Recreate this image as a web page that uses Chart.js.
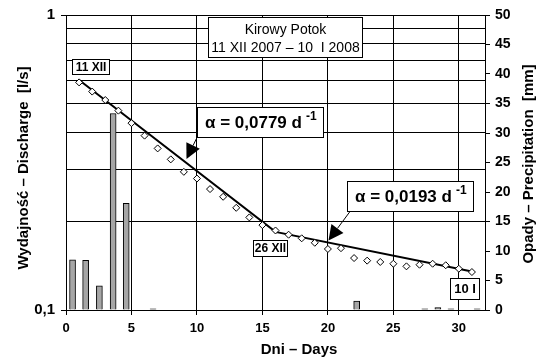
<!DOCTYPE html>
<html>
<head>
<meta charset="utf-8">
<script src="https://cdn.jsdelivr.net/npm/chart.js@4"></script>
<style>
  html, body { margin: 0; padding: 0; background: #fff; }
  #wrap { width: 543px; height: 362px; }
</style>
</head>
<body>
<div id="wrap"><canvas id="chart" width="543" height="362"></canvas></div>
<script>
  // discharge measurements, one per day (day 1 = 11 XII 2007)
  const days = [1, 2, 3, 4, 5, 6, 7, 8, 9, 10, 11, 12, 13, 14, 15, 16,
    17, 18, 19, 20, 21, 22, 23, 24, 25, 26, 27, 28, 29, 30, 31];
  const discharge = [0.591, 0.55, 0.515, 0.474, 0.43, 0.39, 0.353, 0.324, 0.294, 0.279,
    0.257, 0.242, 0.222, 0.206, 0.194, 0.186, 0.180, 0.175, 0.169, 0.161,
    0.162, 0.150, 0.147, 0.1455, 0.1435, 0.1406, 0.1424, 0.1435, 0.1418, 0.138, 0.1345];

  // recession lines (break on 26 XII)
  const fitDays = [1, 16, 31];
  const fitDischarge = [0.602, 0.184, 0.135];

  // daily precipitation bars
  const rainDays = [0.5, 1.5, 2.55, 3.6, 4.6, 6.65, 22.2, 27.4, 28.4, 29.4, 31.4];
  const rain = [8.5, 8.4, 4.1, 33.3, 18.1, 0.2, 1.5, 0.2, 0.4, 0.2, 0.2];

  const dayTicks = [0, 5, 10, 15, 20, 25, 30];
  const qGrid = [0.1, 0.2, 0.3, 0.4, 0.5, 0.6, 0.7, 0.8, 0.9, 1];
  const qLabels = { "0.1": "0,1", "1": "1" };

  const NARROW = "'Liberation Sans Narrow', 'Liberation Sans', Arial, sans-serif";
  const SANS = "'Liberation Sans', Arial, sans-serif";

  function qLabel(v) {
    const key = String(Math.round(v * 10) / 10);
    return qLabels[key] || "";
  }

  function drawBox(ctx, x, y, w, h) {
    ctx.fillStyle = "#fff";
    ctx.fillRect(x, y, w, h);
    ctx.strokeStyle = "#000";
    ctx.lineWidth = 1;
    ctx.strokeRect(x + 0.5, y + 0.5, w, h);
  }

  function boxLabel(ctx, text, x, y, w, h, font) {
    drawBox(ctx, x, y, w, h);
    ctx.fillStyle = "#000";
    ctx.font = font;
    ctx.textAlign = "center";
    ctx.textBaseline = "middle";
    ctx.fillText(text, x + w / 2 + 0.5, y + h / 2 + 1);
  }

  function alphaLabel(ctx, text, x, y, w, h) {
    drawBox(ctx, x, y, w, h);
    ctx.fillStyle = "#000";
    ctx.textBaseline = "alphabetic";
    ctx.textAlign = "left";
    ctx.font = "bold 17px " + SANS;
    ctx.fillText(text, x + 8, y + h / 2 + 6);
    const tw = ctx.measureText(text).width;
    ctx.font = "bold 12px " + SANS;
    ctx.fillText("-1", x + 8 + tw + 4, y + h / 2 - 2);
  }

  function arrow(ctx, fx, fy, tx, ty, len, half) {
    const dx = tx - fx, dy = ty - fy;
    const d = Math.hypot(dx, dy);
    const ux = dx / d, uy = dy / d;
    const bx = tx - ux * len, by = ty - uy * len;
    ctx.strokeStyle = "#000";
    ctx.lineWidth = 1;
    ctx.beginPath();
    ctx.moveTo(fx, fy);
    ctx.lineTo(bx, by);
    ctx.stroke();
    ctx.fillStyle = "#000";
    ctx.beginPath();
    ctx.moveTo(tx, ty);
    ctx.lineTo(bx + uy * half, by - ux * half);
    ctx.lineTo(bx - uy * half, by + ux * half);
    ctx.closePath();
    ctx.fill();
  }

  const notes = {
    id: "notes",
    afterDraw(chart) {
      const ctx = chart.ctx;
      ctx.save();

      // axis titles
      ctx.fillStyle = "#000";
      ctx.font = "bold 15px " + SANS;
      ctx.textAlign = "center";
      ctx.textBaseline = "middle";
      ctx.save();
      ctx.translate(24, 168);
      ctx.rotate(-Math.PI / 2);
      ctx.fillText("Wydajność – Discharge  [l/s]", 0, 0);
      ctx.restore();
      ctx.save();
      ctx.translate(529, 164);
      ctx.rotate(-Math.PI / 2);
      ctx.fillText("Opady – Precipitation  [mm]", 0, 0);
      ctx.restore();
      ctx.fillText("Dni – Days", 299, 350);

      // station box
      drawBox(ctx, 208, 17, 154, 40);
      ctx.fillStyle = "#000";
      ctx.font = "14px " + SANS;
      ctx.fillText("Kirowy Potok", 285.5, 30);
      ctx.fillText("11 XII 2007 – 10  I 2008", 285.5, 48);

      // date tags
      const tagFont = "bold 12px " + NARROW;
      boxLabel(ctx, "11 XII", 72, 59, 37, 15, tagFont);
      boxLabel(ctx, "26 XII", 253, 240, 34, 16, tagFont);
      boxLabel(ctx, "10 I", 450, 278, 29, 21, "bold 13px " + NARROW);

      // recession coefficients
      arrow(ctx, 197, 137.5, 186.5, 159, 15, 7.5);
      alphaLabel(ctx, "α = 0,0779 d", 197, 107, 126, 30);
      arrow(ctx, 350, 211.5, 328.5, 240.5, 15, 7.5);
      alphaLabel(ctx, "α = 0,0193 d", 347, 181, 126, 30);

      ctx.restore();
    }
  };

  new Chart(document.getElementById("chart"), {
    type: "line",
    data: {
      datasets: [
        {
          type: "line",
          label: "Discharge",
          data: days.map((d, i) => ({ x: d, y: discharge[i] })),
          showLine: false,
          pointStyle: "rectRot",
          pointRadius: 3.5,
          pointBackgroundColor: "#fff",
          pointBorderColor: "#000",
          pointBorderWidth: 1,
          xAxisID: "x",
          yAxisID: "y",
          order: 0
        },
        {
          type: "line",
          label: "Recession",
          data: fitDays.map((d, i) => ({ x: d, y: fitDischarge[i] })),
          borderColor: "#000",
          borderWidth: 2,
          pointRadius: 0,
          tension: 0,
          xAxisID: "x",
          yAxisID: "y",
          order: 1
        },
        {
          type: "bar",
          label: "Precipitation",
          data: rainDays.map((d, i) => ({ x: d, y: rain[i] })),
          backgroundColor: "#a6a6a6",
          borderColor: "#000",
          borderWidth: 1,
          barThickness: 6,
          xAxisID: "x",
          yAxisID: "y2",
          order: 2
        }
      ]
    },
    options: {
      responsive: false,
      devicePixelRatio: 1,
      animation: false,
      layout: { padding: { top: 15, left: 0, right: 0, bottom: 0 } },
      plugins: {
        legend: { display: false },
        title: { display: false },
        tooltip: { enabled: false }
      },
      scales: {
        x: {
          type: "linear",
          min: 0,
          max: 32,
          offset: false,
          afterFit: s => { s.height = 52; },
          afterBuildTicks: s => { s.ticks = dayTicks.concat([32]).map(v => ({ value: v })); },
          grid: {
            offset: false,
            color: "#000",
            lineWidth: 1,
            tickLength: 5,
            tickColor: c => (c.tick && c.tick.value === 32 ? "rgba(0,0,0,0)" : "#000")
          },
          border: { color: "#000", width: 1 },
          ticks: {
            autoSkip: false,
            maxRotation: 0,
            padding: 6,
            color: "#000",
            font: { family: NARROW, size: 13, weight: "bold" },
            callback: v => (dayTicks.includes(v) ? String(v) : "")
          }
        },
        y: {
          type: "logarithmic",
          position: "left",
          min: 0.1,
          max: 1,
          afterFit: s => { s.width = 66; },
          afterBuildTicks: s => { s.ticks = qGrid.map(v => ({ value: v })); },
          grid: {
            color: "#000",
            lineWidth: 1,
            tickLength: 5,
            tickColor: c => (c.tick && qLabel(c.tick.value) ? "#000" : "rgba(0,0,0,0)")
          },
          border: { color: "#000", width: 1 },
          ticks: {
            autoSkip: false,
            padding: 6,
            color: "#000",
            font: { family: NARROW, size: 15, weight: "bold" },
            callback: v => qLabel(v)
          }
        },
        y2: {
          type: "linear",
          position: "right",
          min: 0,
          max: 50,
          afterFit: s => { s.width = 58; },
          grid: {
            drawOnChartArea: false,
            color: "#000",
            tickLength: 5,
            tickColor: "#000"
          },
          border: { color: "#000", width: 1 },
          ticks: {
            stepSize: 5,
            autoSkip: false,
            padding: 5,
            color: "#000",
            font: { family: NARROW, size: 14, weight: "bold" }
          }
        }
      }
    },
    plugins: [notes]
  });
</script>
</body>
</html>
